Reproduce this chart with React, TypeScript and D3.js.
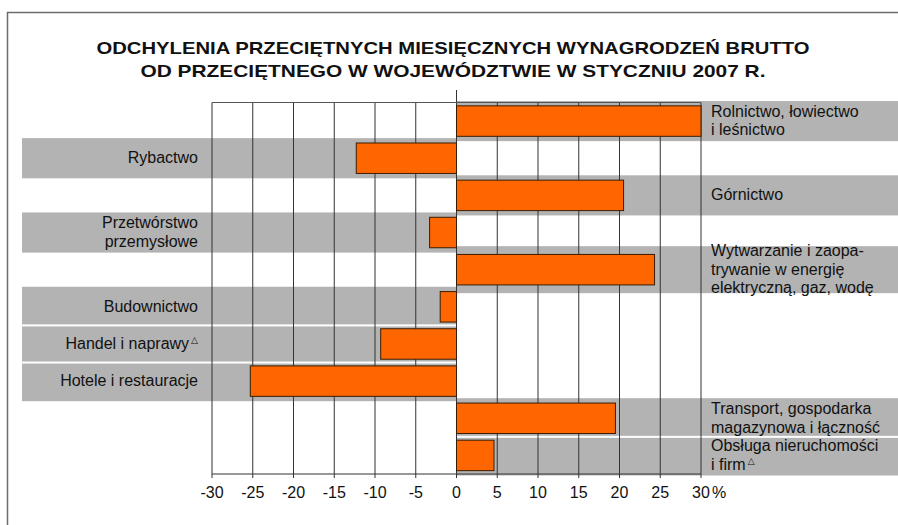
import React, { useEffect, useRef } from 'react';
import * as d3 from 'd3';

// categories top -> bottom
const categories = [
  'Rolnictwo, łowiectwo i leśnictwo',
  'Rybactwo',
  'Górnictwo',
  'Przetwórstwo przemysłowe',
  'Wytwarzanie i zaopatrywanie w energię elektryczną, gaz, wodę',
  'Budownictwo',
  'Handel i naprawy',
  'Hotele i restauracje',
  'Transport, gospodarka magazynowa i łączność',
  'Obsługa nieruchomości i firm',
];

// deviation from voivodeship average, %
const values = [30, -12.3, 20.5, -3.3, 24.3, -2.0, -9.3, -25.3, 19.5, 4.6];

const labelLines = [
  ['Rolnictwo, łowiectwo', 'i leśnictwo'],
  ['Rybactwo'],
  ['Górnictwo'],
  ['Przetwórstwo', 'przemysłowe'],
  ['Wytwarzanie i zaopa-', 'trywanie w energię', 'elektryczną, gaz, wodę'],
  ['Budownictwo'],
  ['Handel i naprawy'],
  ['Hotele i restauracje'],
  ['Transport, gospodarka', 'magazynowa i łączność'],
  ['Obsługa nieruchomości', 'i firm'],
];

// categories marked with a triangle
const marked = ['Handel i naprawy', 'Obsługa nieruchomości i firm'];

const xTicks = [-30, -25, -20, -15, -10, -5, 0, 5, 10, 15, 20, 25, 30];

const titleLines = [
  'ODCHYLENIA PRZECIĘTNYCH MIESIĘCZNYCH WYNAGRODZEŃ BRUTTO',
  'OD PRZECIĘTNEGO W WOJEWÓDZTWIE W STYCZNIU 2007 R.',
];

const width = 898;
const height = 525;
const font = 'Liberation Sans, Arial, sans-serif';

function Chart() {
  const ref = useRef<SVGSVGElement | null>(null);

  useEffect(() => {
    const svg = d3.select(ref.current);
    svg.selectAll('*').remove();

    const plot = { left: 212, right: 701, top: 102.5, bottom: 474 };

    const x = d3.scaleLinear().domain([-30, 30]).range([plot.left, plot.right]);
    const y = d3.scaleBand<string>()
      .domain(categories)
      .range([plot.top, plot.bottom])
      .paddingInner(0.18)
      .paddingOuter(0.09);
    const x0 = x(0);
    const step = y.step();

    // frame
    svg.append('rect')
      .attr('x', 7.5).attr('y', 12.5)
      .attr('width', width).attr('height', height)
      .attr('fill', 'none')
      .attr('stroke', '#6b6b6b')
      .attr('stroke-width', 1.5);

    // title
    const titleLen = [713, 625];
    svg.selectAll('.title')
      .data(titleLines)
      .join('text')
      .attr('class', 'title')
      .attr('x', 453)
      .attr('y', (d, i) => 54 + i * 23)
      .attr('text-anchor', 'middle')
      .attr('font-family', font)
      .attr('font-weight', 'bold')
      .attr('font-size', 17)
      .attr('fill', '#111')
      .attr('textLength', (d, i) => titleLen[i])
      .attr('lengthAdjust', 'spacingAndGlyphs')
      .text(d => d);

    // grey label boxes
    const boxes = categories.map((c, i) => {
      const mid = (y(c) as number) + y.bandwidth() / 2;
      const h = labelLines[i].length >= 3 ? 47 : step + 3;
      return { c, i, left: values[i] < 0, top: mid - h / 2, bottom: mid + h / 2, mid };
    });
    for (let i = 1; i < boxes.length; i++) {
      const a = boxes[i - 1];
      const b = boxes[i];
      if (a.left === b.left && a.bottom > b.top - 2) {
        const m = (a.bottom + b.top) / 2;
        a.bottom = m - 1;
        b.top = m + 1;
      }
    }

    svg.selectAll('.lbl-box')
      .data(boxes)
      .join('rect')
      .attr('class', 'lbl-box')
      .attr('x', d => (d.left ? 22 : x0))
      .attr('y', d => d.top)
      .attr('width', d => (d.left ? x0 - 22 : width - x0))
      .attr('height', d => d.bottom - d.top)
      .attr('fill', '#b3b3b3');

    // grid
    svg.selectAll('.grid')
      .data(xTicks)
      .join('line')
      .attr('class', 'grid')
      .attr('x1', d => x(d)).attr('x2', d => x(d))
      .attr('y1', d => (d === 0 ? 90 : plot.top))
      .attr('y2', plot.bottom + 4)
      .attr('stroke', '#333')
      .attr('stroke-width', 1);

    svg.append('line')
      .attr('x1', plot.left).attr('x2', plot.right)
      .attr('y1', plot.top).attr('y2', plot.top)
      .attr('stroke', '#555');
    svg.append('line')
      .attr('x1', plot.left).attr('x2', plot.right)
      .attr('y1', plot.bottom).attr('y2', plot.bottom)
      .attr('stroke', '#333');

    // bars
    svg.selectAll('.bar')
      .data(categories)
      .join('rect')
      .attr('class', 'bar')
      .attr('x', (d, i) => x(Math.min(0, values[i])))
      .attr('y', d => y(d) as number)
      .attr('width', (d, i) => Math.abs(x(values[i]) - x0))
      .attr('height', y.bandwidth())
      .attr('fill', '#ff6600')
      .attr('stroke', '#3a1d00')
      .attr('stroke-width', 1);

    // tick labels
    svg.selectAll('.tick-label')
      .data(xTicks)
      .join('text')
      .attr('class', 'tick-label')
      .attr('x', d => x(d))
      .attr('y', plot.bottom + 24)
      .attr('text-anchor', 'middle')
      .attr('font-family', font)
      .attr('font-size', 16)
      .attr('fill', '#111')
      .text(d => d);

    svg.append('text')
      .attr('x', x(30) + 11)
      .attr('y', plot.bottom + 24)
      .attr('font-family', font)
      .attr('font-size', 16)
      .attr('fill', '#111')
      .text('%');

    // category labels
    const labels = svg.selectAll('.cat-label')
      .data(boxes)
      .join('text')
      .attr('class', 'cat-label')
      .attr('text-anchor', d => (d.left ? 'end' : 'start'))
      .attr('font-family', font)
      .attr('font-size', 16)
      .attr('fill', '#111');

    const lh = 18.5;
    labels.each(function (d) {
      const lines = labelLines[d.i];
      const n = lines.length;
      const t = d3.select(this);
      lines.forEach((line, k) => {
        const tx = d.left ? 198 : 711;
        const ty = d.mid - ((n - 1) * lh) / 2 + 5 + k * lh;
        t.append('tspan').attr('x', tx).attr('y', ty).text(line);
        if (k === n - 1 && marked.includes(d.c)) {
          t.append('tspan')
            .attr('dy', -6)
            .attr('dx', 2)
            .attr('font-size', 9)
            .attr('font-family', 'DejaVu Sans, sans-serif')
            .text('△');
        }
      });
    });
  }, []);

  return (
    <svg
      ref={ref}
      width={width}
      height={height}
      style={{ position: 'absolute', left: 0, top: 0, background: '#fff' }}
    />
  );
}

export default function App() {
  return <Chart />;
}
